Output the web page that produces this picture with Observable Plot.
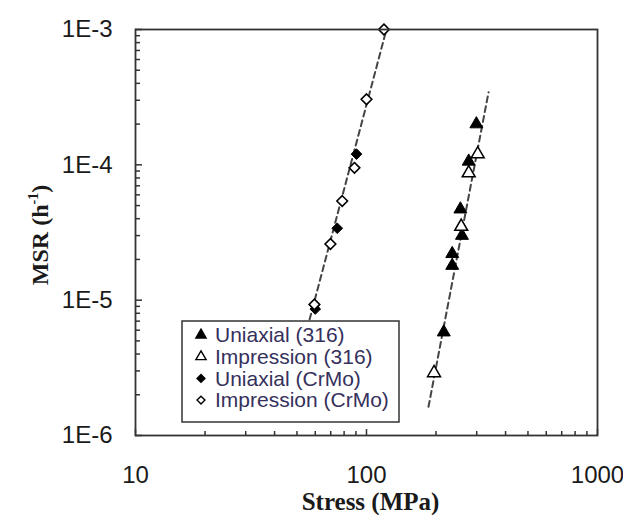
<!DOCTYPE html>
<html>
<head>
<meta charset="utf-8">
<script src="https://cdn.jsdelivr.net/npm/d3@7"></script>
<script src="https://cdn.jsdelivr.net/npm/@observablehq/plot@0.6"></script>
<style>
  html, body { margin: 0; padding: 0; background: #fff; }
  #chart { width: 623px; height: 515px; }
</style>
</head>
<body>
<div id="chart"></div>
<script>
// ---- Data ----
const uni316Stress = [299, 277, 255, 259, 235, 235, 216];
const uni316Msr    = [2.0e-4, 1.06e-4, 4.7e-5, 3.0e-5, 2.2e-5, 1.8e-5, 5.8e-6];

const imp316Stress = [303, 277, 257, 196];
const imp316Msr    = [1.2e-4, 8.7e-5, 3.5e-5, 2.9e-6];

const uniCrMoStress = [90.5, 74.7, 60];
const uniCrMoMsr    = [1.2e-4, 3.4e-5, 8.6e-6];

const impCrMoStress = [119, 100, 88.7, 78.5, 69.8, 59.5];
const impCrMoMsr    = [1.0e-3, 3.05e-4, 9.5e-5, 5.4e-5, 2.6e-5, 9.3e-6];

// power-law trend lines (end points)
const fitCrMoStress = [56.7, 122];
const fitCrMoMsr    = [7.2e-6, 1.0e-3];
const fit316Stress  = [185.5, 337.6];
const fit316Msr     = [1.63e-6, 3.44e-4];

const xTickLabels = [10, 100, 1000];
const yTickLabels = [1e-6, 1e-5, 1e-4, 1e-3];
const xMinor = [20,30,40,50,60,70,80,90,200,300,400,500,600,700,800,900];
const yMinor = [];
for (const d of [1e-6, 1e-5, 1e-4]) for (let k = 2; k <= 9; k++) yMinor.push(+(k * d).toPrecision(3));

const seriesNames = ["Uniaxial (316)", "Impression (316)", "Uniaxial (CrMo)", "Impression (CrMo)"];

// ---- Build tables ----
const pts = (xs, ys) => xs.map((x, i) => ({x, y: ys[i]}));
const uni316 = pts(uni316Stress, uni316Msr);
const imp316 = pts(imp316Stress, imp316Msr);
const uniCrMo = pts(uniCrMoStress, uniCrMoMsr);
const impCrMo = pts(impCrMoStress, impCrMoMsr);
const fitCrMo = pts(fitCrMoStress, fitCrMoMsr);
const fit316 = pts(fit316Stress, fit316Msr);

const sans = "'Liberation Sans', Arial, sans-serif";
const serif = "'Liberation Serif', 'Times New Roman', serif";
const axisColor = "#333";

const chart = Plot.plot({
  width: 623,
  height: 515,
  marginLeft: 135,
  marginRight: 26,
  marginTop: 29,
  marginBottom: 80,
  style: {fontFamily: sans, background: "#fff", color: "#1a1a1a"},
  x: {type: "log", domain: [10, 1000]},
  y: {type: "log", domain: [1e-6, 1e-3]},
  marks: [
    // trend lines
    Plot.line(fitCrMo, {x: "x", y: "y", stroke: "#444", strokeWidth: 2, strokeDasharray: "6,4"}),
    Plot.line(fit316, {x: "x", y: "y", stroke: "#444", strokeWidth: 2, strokeDasharray: "6,4"}),
    // data
    Plot.dot(uni316, {x: "x", y: "y", symbol: "triangle", r: 4.8, fill: "#000", stroke: "#000", strokeWidth: 1}),
    Plot.dot(imp316, {x: "x", y: "y", symbol: "triangle", r: 4.8, fill: "#fff", stroke: "#000", strokeWidth: 1.5}),
    Plot.dot(uniCrMo, {x: "x", y: "y", symbol: "diamond2", r: 4.8, fill: "#000", stroke: "#000", strokeWidth: 1}),
    Plot.dot(impCrMo, {x: "x", y: "y", symbol: "diamond2", r: 4.8, fill: "#fff", stroke: "#000", strokeWidth: 1.6}),
    // frame
    Plot.frame({stroke: axisColor, strokeWidth: 1.8}),
    // inward ticks (shifted inside the frame with insets)
    Plot.axisX(xMinor, {anchor: "bottom", tickSize: 4, insetBottom: 4, tickFormat: () => "", stroke: axisColor, strokeWidth: 1.5, label: null}),
    Plot.axisX(xTickLabels, {anchor: "bottom", tickSize: 6, insetBottom: 6, tickFormat: () => "", stroke: axisColor, strokeWidth: 1.5, label: null}),
    Plot.axisY(yMinor, {anchor: "left", tickSize: 5, insetLeft: 5, tickFormat: () => "", stroke: axisColor, strokeWidth: 1.5, label: null}),
    Plot.axisY(yTickLabels, {anchor: "left", tickSize: 7, insetLeft: 7, tickFormat: () => "", stroke: axisColor, strokeWidth: 1.5, label: null}),
    // tick labels
    Plot.axisX(xTickLabels, {anchor: "bottom", tickSize: 0, tickPadding: 30, fontSize: 24, fill: "#1a1a1a", tickFormat: d => String(d), label: null}),
    Plot.axisY(yTickLabels, {anchor: "left", tickSize: 0, tickPadding: 23, fontSize: 24, fill: "#1a1a1a", tickFormat: d => "1E" + Math.round(Math.log10(d)), label: null}),
    // x axis title
    Plot.text(["Stress (MPa)"], {text: d => d, frameAnchor: "bottom", dx: 4, dy: 66, lineAnchor: "middle", fontSize: 25, fontWeight: "bold", fontFamily: serif, fill: "#1a1a1a"})
  ]
});

document.getElementById("chart").appendChild(chart);

// ---- y axis title with superscript ----
const svg = d3.select(chart);
const yt = svg.append("text")
  .attr("transform", "translate(48,235) rotate(-90)")
  .attr("text-anchor", "middle")
  .attr("font-family", serif)
  .attr("font-weight", "bold")
  .attr("font-size", 24)
  .attr("fill", "#1a1a1a");
yt.append("tspan").text("MSR (h");
yt.append("tspan").attr("font-size", 14).attr("dy", -10).text("-1");
yt.append("tspan").attr("dy", 10).text(")");

// ---- legend ----
const lg = svg.append("g");
lg.append("rect").attr("x", 182).attr("y", 321).attr("width", 217).attr("height", 101)
  .attr("fill", "#fff").attr("stroke", axisColor).attr("stroke-width", 1.5);
const legendSym = [
  {type: d3.symbolTriangle, fill: "#000", size: 45},
  {type: d3.symbolTriangle, fill: "#fff", size: 45},
  {type: d3.symbolDiamond2, fill: "#000", size: 40},
  {type: d3.symbolDiamond2, fill: "#fff", size: 40}
];
seriesNames.forEach((name, i) => {
  const cy = 335 + i * 21.7;
  lg.append("path")
    .attr("d", d3.symbol(legendSym[i].type, legendSym[i].size)())
    .attr("transform", `translate(201,${cy})`)
    .attr("fill", legendSym[i].fill)
    .attr("stroke", "#000")
    .attr("stroke-width", 1.4);
  lg.append("text")
    .attr("x", 215).attr("y", cy).attr("dy", "0.35em")
    .attr("text-anchor", "start")
    .attr("font-family", sans).attr("font-size", 21)
    .attr("fill", "#35305c")
    .text(name);
});
</script>
</body>
</html>
